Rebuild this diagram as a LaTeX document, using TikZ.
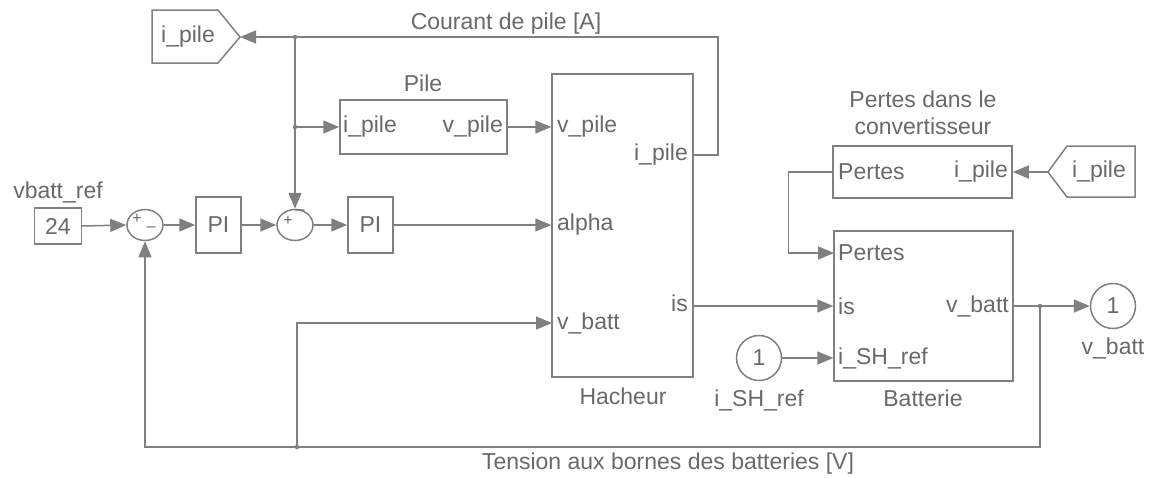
\documentclass[tikz,border=0pt]{standalone}
\usepackage{fontspec}
\setmainfont{Liberation Sans}
\usetikzlibrary{arrows.meta,shapes.geometric}
\definecolor{lc}{RGB}{128,128,128}
\definecolor{tc}{RGB}{105,105,105}
\begin{document}
\begin{tikzpicture}[x=1pt,y=-1pt,
  font=\fontsize{23}{27}\selectfont,
  blk/.style={draw=lc, rectangle, inner sep=0pt, line width=1.5pt},
  sumb/.style={draw=lc, ellipse, inner sep=0pt, minimum width=36pt, minimum height=31pt, line width=1.5pt},
  port/.style={draw=lc, circle, inner sep=0pt, minimum size=45pt, line width=1.5pt, text=tc},
  wire/.style={draw=lc, line width=1.5pt},
  arr/.style={wire, -{Triangle[length=16pt,width=13pt]}},
  lbl/.style={text=tc, inner sep=0pt},
  sgn/.style={text=tc, inner sep=0pt, font=\fontsize{16}{16}\selectfont},
  jdot/.style={circle, fill=lc, inner sep=0pt, minimum size=4.5pt}
]
\useasboundingbox (0,0) rectangle (1150,477);

% ---------- blocks ----------
\node[blk, minimum width=47pt, minimum height=36pt, text=tc] (const) at (58,226) {24};
\node[sumb] (sum1) at (145,225) {};
\node[blk, minimum width=45pt, minimum height=56pt, text=tc] (pi1) at (218.5,225) {PI};
\node[sumb] (sum2) at (295,225) {};
\node[blk, minimum width=45pt, minimum height=56pt, text=tc] (pi2) at (370.5,225) {PI};
\node[blk, minimum width=167pt, minimum height=54pt] (pile) at (423.5,127) {};
\node[blk, minimum width=141pt, minimum height=303pt] (hach) at (622.5,225.5) {};
\node[blk, minimum width=179pt, minimum height=52pt] (pertes) at (922.5,172) {};
\node[blk, minimum width=179pt, minimum height=150pt] (batt) at (923.5,306) {};
\node[port] (ish) at (759,358) {1};
\node[port] (vout) at (1113,306) {1};

% goto tags
\draw[wire] (152,10) -- (218,10) -- (240,37) -- (218,63) -- (152,63) -- cycle;
\node[lbl] (tagL) at (188,37) {i\_pile};
\coordinate (tagLtip) at (240,37);
\draw[wire] (1135,146) -- (1067,146) -- (1048,172) -- (1067,197) -- (1135,197) -- cycle;
\node[lbl] (tagR) at (1099,172) {i\_pile};
\coordinate (tagRtip) at (1048,172);

% sum signs
\node[sgn] (s1p) at (137,219) {+};
\node[sgn] (s1m) at (151,229) {\textendash};
\node[sgn] (s2p) at (288,221) {+};
\node[sgn] (s2m) at (300,212) {\textendash};

% ---------- port labels ----------
\node[lbl, anchor=west] (pl1) at (343,127) {i\_pile};
\node[lbl, anchor=east] (pl2) at (503,127) {v\_pile};
\node[lbl, anchor=west] (hl1) at (557,127) {v\_pile};
\node[lbl, anchor=west] (hl2) at (557,225) {alpha};
\node[lbl, anchor=west] (hl3) at (557,323) {v\_batt};
\node[lbl, anchor=east] (hl4) at (688,155) {i\_pile};
\node[lbl, anchor=east] (hl5) at (688,303) {is};
\node[lbl, anchor=west] (cl1) at (838,172) {Pertes};
\node[lbl, anchor=east] (cl2) at (1008,172) {i\_pile};
\node[lbl, anchor=west] (bl1) at (838,253) {Pertes};
\node[lbl, anchor=west] (bl2) at (838,306) {is};
\node[lbl, anchor=west] (bl3) at (838,358) {i\_SH\_ref};
\node[lbl, anchor=east] (bl4) at (1009,306) {v\_batt};

% ---------- outside labels ----------
\node[lbl] (tref) at (58,192) {vbatt\_ref};
\node[lbl] (tpile) at (423,83) {Pile};
\node[lbl] (tcour) at (506,24) {Courant de pile [A]};
\node[lbl] (thach) at (623,396) {Hacheur};
\node[lbl, align=center] (tpert) at (923,113) {Pertes dans le\\convertisseur};
\node[lbl] (tbatt) at (923,398) {Batterie};
\node[lbl] (tish) at (759,400) {i\_SH\_ref};
\node[lbl] (tvout) at (1113,348) {v\_batt};
\node[lbl] (tten) at (668,464) {Tension aux bornes des batteries [V]};

% ---------- junctions / port coordinates ----------
\coordinate (hipile) at (693,155);
\coordinate (his) at (693,306);
\coordinate (hvbatt) at (552,323);
\coordinate (bpertes) at (834,253);
\coordinate (bot) at (145,447);
\node[jdot] (j1) at (295,37) {};
\node[jdot] (j2) at (295,127) {};
\node[jdot] (j3) at (1040,306) {};
\node[jdot] (j4) at (297,447) {};

% ---------- connectors ----------
\draw[arr] (const.east) -- (sum1.west);
\draw[arr] (sum1.east) -- (pi1.west);
\draw[arr] (pi1.east) -- (sum2.west);
\draw[arr] (sum2.east) -- (pi2.west);
\draw[arr] (pi2.east) -- (pi2.east -| hach.west);
\draw[arr] (pile.east) -- (pile.east -| hach.west);
\draw[arr] (hipile) -- ++(25,0) |- (tagLtip);
\draw[arr] (j1) -- (sum2.north);
\draw[arr] (j2) -- (pile.west);
\draw[arr] (his) -- (his -| batt.west);
\draw[arr] (batt.east) -- (vout.west);
\draw[arr] (j3) |- (bot) -- (sum1.south);
\draw[arr] (j4) |- (hvbatt);
\draw[arr] (tagRtip) -- (pertes.east);
\draw[arr] (pertes.west) -- ++(-44,0) |- (bpertes);
\draw[arr] (ish.east) -- (ish.east -| batt.west);
\end{tikzpicture}
\end{document}
